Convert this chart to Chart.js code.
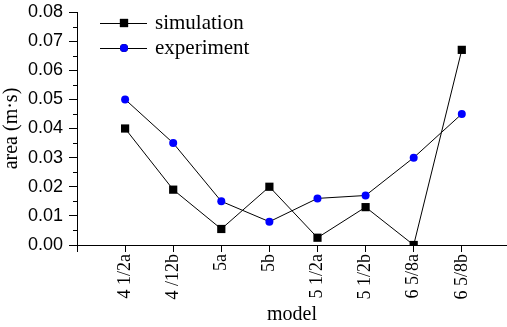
<!DOCTYPE html>
<html>
<head>
<meta charset="utf-8">
<script src="https://cdn.jsdelivr.net/npm/chart.js@4"></script>
<style>
  html, body { margin: 0; padding: 0; background: #fff; }
  #wrap { width: 507px; height: 327px; position: relative; }
</style>
</head>
<body>
<div id="wrap"><canvas id="areaChart"></canvas></div>
<script>
// models along the x axis
const models = ["4 1/2a", "4 /12b", "5a", "5b", "5 1/2a", "5 1/2b", "6 5/8a", "6 5/8b"];
// area values (m·s)
const simulation = [0.040, 0.019, 0.0055, 0.020, 0.0025, 0.013, 0.0, 0.067];
const experiment = [0.050, 0.035, 0.015, 0.008, 0.016, 0.017, 0.030, 0.045];
const yTicks = [0, 0.01, 0.02, 0.03, 0.04, 0.05, 0.06, 0.07, 0.08];
const yMinorTicks = [0.005, 0.015, 0.025, 0.035, 0.045, 0.055, 0.065, 0.075];

const serif = "'Liberation Serif', 'Times New Roman', serif";
const sans = "'Liberation Sans', Arial, sans-serif";

function toPoints(values) {
    return values.map((v, i) => ({ x: i + 1, y: v }));
}

// short minor ticks on the left axis
const minorTicks = {
    id: "minorTicks",
    afterDraw(chart) {
        const ctx = chart.ctx;
        const y = chart.scales.y;
        ctx.save();
        ctx.strokeStyle = "#000";
        ctx.lineWidth = 1;
        yMinorTicks.forEach(v => {
            const py = Math.round(y.getPixelForValue(v)) + 0.5;
            ctx.beginPath();
            ctx.moveTo(y.right - 4, py);
            ctx.lineTo(y.right, py);
            ctx.stroke();
        });
        ctx.restore();
    }
};

// legend: line with the marker in the middle, then the label
const lineLegend = {
    id: "lineLegend",
    afterDraw(chart) {
        const ctx = chart.ctx;
        ctx.save();
        chart.data.datasets.forEach((ds, i) => {
            const y = 23 + i * 25;
            ctx.strokeStyle = "#000";
            ctx.lineWidth = 1;
            ctx.beginPath();
            ctx.moveTo(100, y + 0.5);
            ctx.lineTo(147, y + 0.5);
            ctx.stroke();
            Chart.helpers.drawPoint(ctx, {
                pointStyle: ds.pointStyle,
                radius: ds.pointRadius,
                borderWidth: 0
            }, 124, y);
            ctx.fillStyle = ds.pointBackgroundColor;
            ctx.fill();
            ctx.fillStyle = "#000";
            ctx.font = "21px " + serif;
            ctx.textBaseline = "middle";
            ctx.fillText(ds.label, 155, y);
        });
        ctx.restore();
    }
};

const ctx = document.getElementById("areaChart").getContext("2d");
const areaChart = new Chart(ctx, {
    type: "line",
    data: {
        datasets: [
            {
                label: "simulation",
                data: toPoints(simulation),
                borderColor: "#000",
                borderWidth: 1,
                pointStyle: "rect",
                pointRadius: 5.8,
                pointBackgroundColor: "#000",
                pointBorderWidth: 0
            },
            {
                label: "experiment",
                data: toPoints(experiment),
                borderColor: "#000",
                borderWidth: 1,
                pointStyle: "circle",
                pointRadius: 4,
                pointBackgroundColor: "#0000ff",
                pointBorderWidth: 0
            }
        ]
    },
    options: {
        responsive: true,
        maintainAspectRatio: false,
        animation: false,
        layout: { autoPadding: false, padding: { top: 12, right: 0, left: 0, bottom: 0 } },
        plugins: {
            legend: { display: false },
            tooltip: { enabled: false }
        },
        scales: {
            x: {
                type: "linear",
                min: 0,
                max: 8.94,
                afterBuildTicks: scale => {
                    scale.ticks = [{ value: 0 }].concat(models.map((m, i) => ({ value: i + 1 })));
                },
                afterFit: scale => {
                    scale.height = 82;
                    scale.paddingLeft = 0;
                    scale.paddingRight = 0;
                },
                grid: { drawOnChartArea: false, color: "#000", tickLength: 7 },
                border: { color: "#000", width: 1 },
                ticks: {
                    color: "#000",
                    font: { family: serif, size: 18 },
                    minRotation: 90,
                    maxRotation: 90,
                    padding: 2,
                    autoSkip: false,
                    callback: v => (v >= 1 ? models[v - 1] : "")
                },
                title: {
                    display: true,
                    text: "model",
                    color: "#000",
                    font: { family: serif, size: 20 },
                    padding: { top: 0, bottom: 0 }
                }
            },
            y: {
                min: 0,
                max: 0.08,
                afterBuildTicks: scale => {
                    scale.ticks = yTicks.map(v => ({ value: v }));
                },
                afterFit: scale => {
                    scale.width = 77;
                    scale.paddingTop = 0;
                    scale.paddingBottom = 0;
                },
                grid: { drawOnChartArea: false, color: "#000", tickLength: 8 },
                border: { color: "#000", width: 1 },
                ticks: {
                    color: "#000",
                    font: { family: sans, size: 18 },
                    padding: 6,
                    callback: v => v.toFixed(2)
                },
                title: {
                    display: true,
                    text: "area (m·s)",
                    color: "#000",
                    font: { family: serif, size: 20 },
                    padding: { top: 0, bottom: 0 }
                }
            }
        }
    },
    plugins: [minorTicks, lineLegend]
});
</script>
</body>
</html>
